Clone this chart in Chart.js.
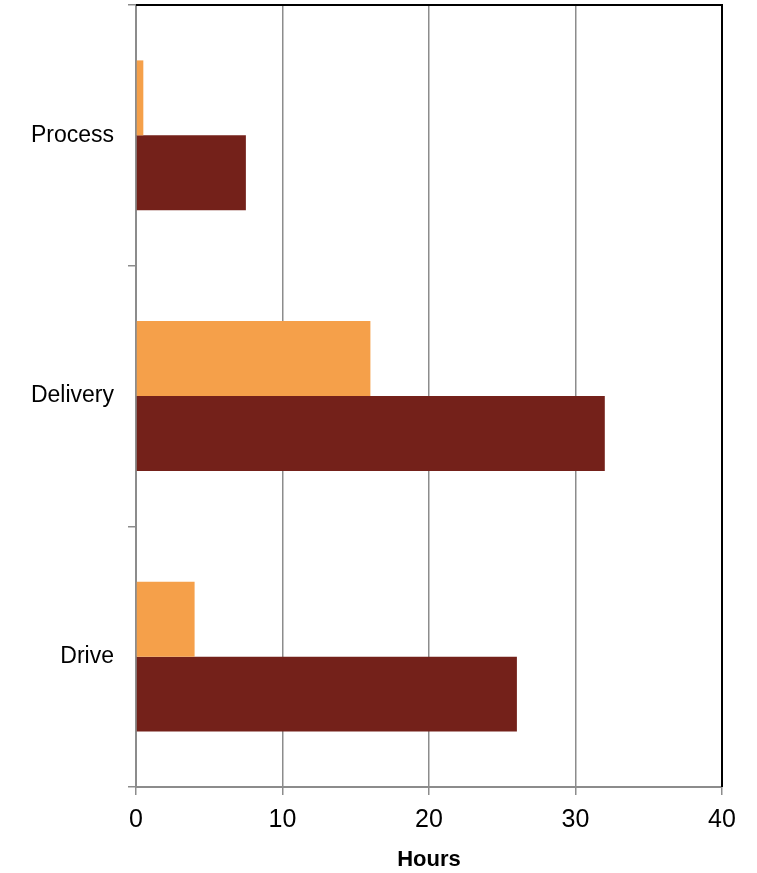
<!DOCTYPE html>
<html>
<head>
<meta charset="utf-8">
<script src="https://cdn.jsdelivr.net/npm/chart.js@4"></script>
<style>
  html, body { margin: 0; padding: 0; background: #fff; }
  #wrap { width: 757px; height: 873px; }
</style>
</head>
<body>
<div id="wrap"><canvas id="grafica"></canvas></div>
<script>
// Datos de la gráfica
const categorias = ['Process', 'Delivery', 'Drive'];
const serieNaranja = [0.5, 16, 4];
const serieRoja = [7.5, 32, 26];
const ticksHoras = [0, 10, 20, 30, 40];

const gris = '#8c8c8c';

// Dibuja el borde negro superior y derecho del área de la gráfica
const bordeArea = {
    id: 'bordeArea',
    afterDatasetsDraw(chart) {
        const { ctx, chartArea } = chart;
        ctx.save();
        ctx.strokeStyle = '#000';
        ctx.lineWidth = 2;
        ctx.beginPath();
        ctx.moveTo(chartArea.left, chartArea.top);
        ctx.lineTo(chartArea.right, chartArea.top);
        ctx.lineTo(chartArea.right, chartArea.bottom);
        ctx.stroke();
        ctx.restore();
    }
};

const ctx = document.getElementById('grafica').getContext('2d');
new Chart(ctx, {
    type: 'bar',
    data: {
        labels: categorias,
        datasets: [
            { label: 'Serie 1', data: serieNaranja, backgroundColor: '#f5a04a' },
            { label: 'Serie 2', data: serieRoja, backgroundColor: '#74211a' }
        ]
    },
    options: {
        indexAxis: 'y',
        responsive: true,
        maintainAspectRatio: false,
        animation: false,
        categoryPercentage: 0.575,
        barPercentage: 1.0,
        layout: { padding: { top: 5, right: 35, left: 0, bottom: 0 } },
        plugins: {
            legend: { display: false },
            tooltip: { enabled: false }
        },
        scales: {
            x: {
                min: 0,
                max: 40,
                afterBuildTicks: (scale) => { scale.ticks = ticksHoras.map(v => ({ value: v })); },
                grid: { color: gris, lineWidth: 1.5, tickLength: 8 },
                border: { color: gris, width: 2 },
                ticks: { color: '#000', padding: 10, font: { family: 'Liberation Sans', size: 25 } },
                title: {
                    display: true,
                    text: 'Hours',
                    color: '#000',
                    padding: { top: 2, bottom: 0 },
                    font: { family: 'Liberation Sans', size: 22, weight: 'bold' }
                },
                afterFit: (scale) => { scale.height = 86; }
            },
            y: {
                grid: { offset: true, drawOnChartArea: false, color: gris, lineWidth: 1.5, tickLength: 8 },
                border: { color: gris, width: 2 },
                ticks: { color: '#000', padding: 14, font: { family: 'Liberation Sans', size: 23 } },
                afterFit: (scale) => {
                    scale.width = 136;
                    scale.paddingTop = 0;
                    scale.paddingBottom = 0;
                }
            }
        }
    },
    plugins: [bordeArea]
});
</script>
</body>
</html>
